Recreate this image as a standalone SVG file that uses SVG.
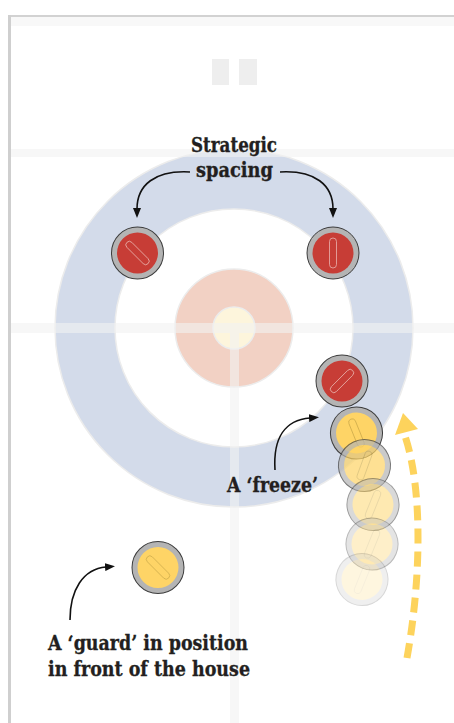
<svg xmlns="http://www.w3.org/2000/svg" width="454" height="723" viewBox="0 0 454 723">
<defs>
<style>
.lbl{font-family:"DejaVu Serif Condensed","DejaVu Serif",serif;font-weight:bold;font-size:21px;fill:#231f20;stroke:#231f20;stroke-width:0.3}
.rim{fill:#b4b4b4;stroke:#3c3c3c;stroke-width:1}
.red{fill:#c73d36}
.yel{fill:#fed466}
.hdl{fill:none;stroke:#e9b3ae;stroke-width:0.8}
.hdly{fill:none;stroke:#c9a84a;stroke-width:0.7}
.conn{fill:none;stroke:#111;stroke-width:1.6}
.line{fill:#f2f2f2;opacity:0.6}
</style>
<marker id="ah" viewBox="0 0 10 8" markerUnits="userSpaceOnUse" markerWidth="10" markerHeight="8" refX="1" refY="4" orient="auto">
<path d="M0,0 L10,4 L0,8 z" fill="#111"/>
</marker>
<g id="stoneRed">
<circle r="26" class="rim"/>
<circle r="20.5" class="red"/>
<rect x="-3.5" y="-15" width="7" height="30" rx="3.5" class="hdl"/>
</g>
<g id="stoneYel">
<circle r="26" class="rim"/>
<circle r="20.5" class="yel"/>
<rect x="-3.5" y="-15" width="7" height="30" rx="3.5" class="hdly"/>
</g>
</defs>
<rect width="454" height="723" fill="#fff"/>
<g id="sheet">
<rect x="11" y="17" width="443" height="9" fill="#f8f8f8"/>
<rect x="212" y="59" width="17" height="26" fill="#eeeeee"/>
<rect x="239" y="59" width="18" height="26" fill="#eeeeee"/>
</g>
<g id="house">
<circle cx="234" cy="328" r="179" fill="#d3dbea" stroke="#ececec" stroke-width="1.5"/>
<circle cx="234" cy="328" r="119" fill="#fff" stroke="#ececec" stroke-width="1.5"/>
<circle cx="234" cy="328" r="59" fill="#f2d1c4" stroke="#ececec" stroke-width="1.5"/>
<circle cx="234" cy="328" r="21" fill="#fdf5dc" stroke="#ececec" stroke-width="1.5"/>
</g>
<g id="lines">
<rect x="11" y="149" width="443" height="8" class="line"/>
<rect x="11" y="323" width="443" height="10" class="line"/>
<rect x="230" y="333" width="9" height="390" class="line"/>
</g>
<g id="frame">
<rect x="8" y="15" width="446" height="2" fill="#d2d2d2"/>
<rect x="8" y="15" width="3" height="708" fill="#cfcfcf"/>
</g>
<g id="stone-left"><use href="#stoneRed" transform="translate(137.5,253) rotate(-45)"/></g>
<g id="stone-right"><use href="#stoneRed" transform="translate(333,253)"/></g>
<g id="stone-target"><use href="#stoneRed" transform="translate(342,381) rotate(45)"/></g>
<g id="stone-freeze"><use href="#stoneYel" transform="translate(356.5,433) rotate(-22)"/></g>
<g id="trail">
<use href="#stoneYel" transform="translate(364.5,465.5) rotate(20)" opacity="0.7"/>
<use href="#stoneYel" transform="translate(373,504.5) rotate(22)" opacity="0.5"/>
<use href="#stoneYel" transform="translate(372,544) rotate(22)" opacity="0.35"/>
<use href="#stoneYel" transform="translate(362,579.5) rotate(22)" opacity="0.2"/>
</g>
<g id="stone-guard"><use href="#stoneYel" transform="translate(158,567.5) rotate(-45)"/></g>
<g id="connectors">
<path class="conn" d="M190,172 C155,170 137,185 137,209" marker-end="url(#ah)"/>
<path class="conn" d="M280,172 C315,170 333,185 333,209" marker-end="url(#ah)"/>
<path class="conn" d="M275,470 C273,438 285,420 310,418" marker-end="url(#ah)"/>
<path class="conn" d="M70,620 C70,590 83,569 106,567" marker-end="url(#ah)"/>
<path d="M407,658 C421,580 423,490 405,436" fill="none" stroke="#fdd35c" stroke-width="7" stroke-dasharray="15,8"/>
<polygon points="403,413 418,429 395,435" fill="#fdd35c"/>
</g>
<g id="labels">
<text class="lbl" x="191" y="152" textLength="86" lengthAdjust="spacingAndGlyphs">Strategic</text>
<text class="lbl" x="196" y="177" textLength="77" lengthAdjust="spacingAndGlyphs">spacing</text>
<text class="lbl" x="227" y="492" textLength="91" lengthAdjust="spacingAndGlyphs">A ‘freeze’</text>
<text class="lbl" x="48" y="650" textLength="200" lengthAdjust="spacingAndGlyphs">A ‘guard’ in position</text>
<text class="lbl" x="48" y="676" textLength="202" lengthAdjust="spacingAndGlyphs">in front of the house</text>
</g>
</svg>
